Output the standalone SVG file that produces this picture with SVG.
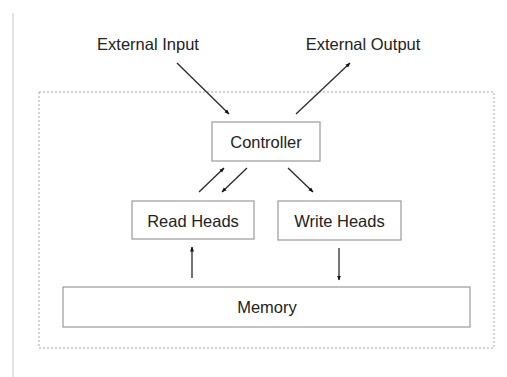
<svg xmlns="http://www.w3.org/2000/svg" width="507" height="377" viewBox="0 0 507 377">
<style>
.box{fill:#fff;stroke:#9a9a9a;stroke-width:1.2}
.lbl{font-family:"Liberation Sans",Arial,sans-serif;font-size:16.5px;fill:#222;text-anchor:middle}
.edge{stroke:#2a2a2a;stroke-width:1.3;fill:none;marker-end:url(#ah)}
</style>
<defs>
<marker id="ah" viewBox="0 0 10 10" refX="9" refY="5" markerWidth="5" markerHeight="5" orient="auto" markerUnits="userSpaceOnUse">
<path d="M0,1 L10,5 L0,9 z" fill="#111"/>
</marker>
</defs>
<rect x="0" y="0" width="507" height="377" fill="#fff"/>
<line x1="13" y1="13" x2="13" y2="377" stroke="#e2e2e2" stroke-width="2"/>
<rect x="39" y="92" width="455" height="256" fill="none" stroke="#aaa" stroke-width="1" stroke-dasharray="2 2"/>
<g id="external-input"><text class="lbl" x="148" y="50">External Input</text></g>
<g id="external-output"><text class="lbl" x="363" y="50">External Output</text></g>
<g id="controller"><rect class="box" x="212" y="122" width="108" height="39"/><text class="lbl" x="266" y="147.5">Controller</text></g>
<g id="read-heads"><rect class="box" x="132" y="201" width="122" height="38"/><text class="lbl" x="193" y="226.5">Read Heads</text></g>
<g id="write-heads"><rect class="box" x="278" y="201" width="123" height="39"/><text class="lbl" x="339.5" y="226.5">Write Heads</text></g>
<g id="memory"><rect class="box" x="63" y="287" width="407" height="40"/><text class="lbl" x="267" y="313">Memory</text></g>
<g id="connectors">
<line class="edge" x1="177" y1="63" x2="229" y2="114"/>
<line class="edge" x1="296" y1="114" x2="350" y2="63"/>
<line class="edge" x1="199" y1="192" x2="224" y2="168"/>
<line class="edge" x1="247" y1="168" x2="222" y2="192"/>
<line class="edge" x1="288" y1="168" x2="313" y2="192"/>
<line class="edge" x1="192" y1="278" x2="192" y2="247"/>
<line class="edge" x1="339" y1="248" x2="339" y2="280"/>
</g>
</svg>
